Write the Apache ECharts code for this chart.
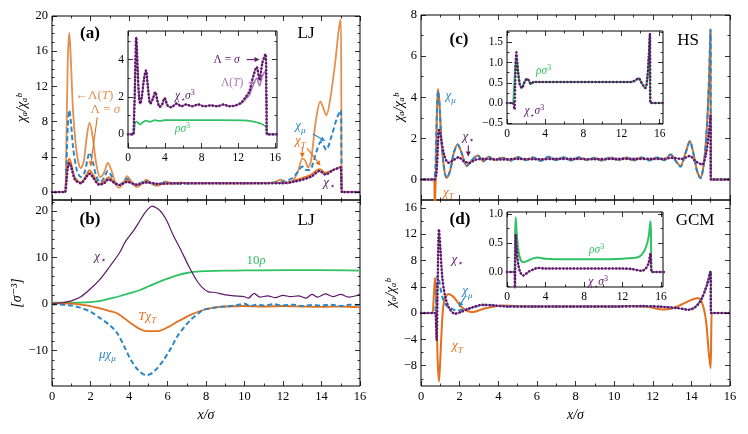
<!DOCTYPE html>
<html>
<head>
<meta charset="utf-8">
<script src="https://cdn.jsdelivr.net/npm/echarts@6/dist/echarts.min.js"></script>
<style>
  html, body { margin: 0; padding: 0; background: #fff; }
  #chart { width: 748px; height: 434px; }
</style>
</head>
<body>
<div id="chart"></div>
<script>
// tick values
const X_MAJ = [0, 2, 4, 6, 8, 10, 12, 14, 16];
const X_MIN = [1, 3, 5, 7, 9, 11, 13, 15];
const IN_X_MAJ = [0, 4, 8, 12, 16];
const IN_X_MIN = [2, 6, 10, 14];
const A_Y_MAJ = [0, 4, 8, 12, 16, 20];
const A_Y_MIN = [1, 2, 3, 5, 6, 7, 9, 10, 11, 13, 14, 15, 17, 18, 19];
const B_Y_MAJ = [-10, 0, 10, 20];
const B_Y_MIN = [-16, -14, -12, -8, -6, -4, -2, 2, 4, 6, 8, 12, 14, 16, 18, 22];
const C_Y_MAJ = [0, 2, 4, 6, 8];
const C_Y_MIN = [1, 3, 5, 7];
const D_Y_MAJ = [-8, -4, 0, 4, 8, 12, 16];
const D_Y_MIN = [-10, -6, -2, 2, 6, 10, 14];
const IA_Y_MAJ = [0, 2, 4];
const IA_Y_MIN = [1, 3, 5];
const IC_Y_MAJ = [-0.5, 0, 0.5, 1, 1.5];
const IC_Y_MIN = [-0.25, 0.25, 0.75, 1.25, 1.75];
const ID_Y_MAJ = [0, 0.5, 1];
const ID_Y_MIN = [-0.25, 0.25, 0.75];

// (a) LJ, chi_a / chi_a^bulk
const aChiTLamT = [[0,0],[0.6,0],[0.68,0],[0.75,6],[0.82,15],[0.9,18.1],[0.98,15],[1.1,9],[1.3,4.2],[1.5,2.7],[1.65,3.5],[1.8,6.2],[1.95,7.9],[2.1,6.5],[2.3,3.2],[2.5,1.7],[2.7,2.2],[2.9,3.3],[3.1,2.4],[3.3,1.0],[3.5,0.5],[3.7,1.0],[3.9,1.8],[4.1,1.3],[4.4,0.55],[4.6,0.8],[4.9,1.4],[5.2,0.9],[5.5,0.7],[5.9,1.2],[6.3,0.9],[6.7,1.1],[7.2,0.95],[8,1.05],[9,1.0],[10,1.0],[11,1.05],[11.5,1.1],[11.9,1.4],[12.2,1.0],[12.5,1.2],[12.8,2.5],[13.0,3.8],[13.15,3.6],[13.3,2.8],[13.45,3.5],[13.7,8.0],[13.94,10.3],[14.1,9.5],[14.25,8.7],[14.45,10.5],[14.7,14.5],[14.9,18.5],[15.0,19.6],[15.03,10],[15.06,0],[16,0]];
const aChiMu = [[0,0],[0.6,0],[0.68,0],[0.75,3],[0.82,7.5],[0.9,9.3],[0.98,8],[1.1,5],[1.3,2.4],[1.5,1.7],[1.7,2.3],[1.85,3.8],[1.95,4.5],[2.1,3.6],[2.3,1.8],[2.5,1.1],[2.7,1.6],[2.9,2.4],[3.1,1.8],[3.3,0.9],[3.5,0.8],[3.9,1.5],[4.3,0.8],[4.9,1.25],[5.4,0.85],[5.9,1.1],[6.5,0.95],[7.5,1.0],[9,1.0],[11,1.0],[11.6,1.1],[12,1.2],[12.5,1.6],[12.8,2.4],[13.0,2.9],[13.2,2.5],[13.4,2.5],[13.6,3.6],[13.8,5.0],[13.95,5.7],[14.1,5.3],[14.25,4.8],[14.5,6.2],[14.8,8.4],[15.0,9.3],[15.03,5],[15.06,0],[16,0]];
const aChiTSig = [[0,0],[0.6,0],[0.68,0],[0.75,1.5],[0.82,3.2],[0.9,3.8],[1.0,3.2],[1.2,1.6],[1.5,1.1],[1.75,1.8],[1.95,2.5],[2.15,1.9],[2.45,0.9],[2.7,1.2],[2.95,1.7],[3.2,1.2],[3.5,0.8],[3.9,1.3],[4.4,0.8],[4.9,1.15],[5.5,0.9],[6.5,1.05],[8,1.0],[10,1.0],[12,1.05],[12.6,1.3],[13.0,1.6],[13.4,1.9],[13.9,2.6],[14.2,2.2],[14.6,2.5],[15.0,2.9],[15.03,1.5],[15.06,0],[16,0]];
const aChiStar = [[0,0],[0.6,0],[0.68,0],[0.75,1.2],[0.82,2.8],[0.9,3.3],[1.0,2.8],[1.2,1.4],[1.5,1.0],[1.75,1.6],[1.95,2.1],[2.15,1.6],[2.45,0.85],[2.7,1.0],[2.95,1.45],[3.2,1.1],[3.5,0.8],[3.9,1.15],[4.4,0.85],[4.9,1.1],[5.5,0.95],[6.5,1.0],[8,1.0],[10,1.0],[12,1.0],[12.6,1.2],[13.0,1.4],[13.5,1.8],[13.9,2.4],[14.2,2.0],[14.6,2.5],[15.0,2.8],[15.03,1.4],[15.06,0],[16,0]];
// (a) inset
const iaStarSig = [[0,0],[0.6,0],[0.65,0],[0.75,2.5],[0.9,5.2],[1.05,3.5],[1.2,2.0],[1.34,1.64],[1.5,2.0],[1.75,3.0],[1.96,3.42],[2.15,2.6],[2.43,1.64],[2.7,1.9],[2.97,2.26],[3.2,1.8],[3.44,1.47],[3.7,1.6],[3.98,1.94],[4.3,1.55],[4.7,1.45],[5.3,1.65],[5.8,1.5],[6.3,1.6],[7,1.5],[7.6,1.6],[8.3,1.5],[9,1.55],[9.7,1.5],[10.4,1.6],[11,1.5],[11.7,1.55],[12.3,1.7],[12.8,2.0],[13.2,2.3],[13.5,2.9],[14.0,3.6],[14.3,2.9],[14.6,3.8],[14.95,4.3],[15.05,2],[15.12,0],[16.2,0]];
const iaStarLamT = [[0,0],[0.6,0],[0.65,0],[0.75,2.5],[0.9,5.2],[1.05,3.5],[1.2,2.0],[1.34,1.64],[1.5,2.0],[1.75,3.0],[1.96,3.42],[2.15,2.6],[2.43,1.64],[2.7,1.9],[2.97,2.26],[3.2,1.8],[3.44,1.47],[3.7,1.6],[3.98,1.94],[4.3,1.55],[4.7,1.45],[5.3,1.65],[5.8,1.5],[6.3,1.6],[7,1.5],[7.6,1.6],[8.3,1.5],[9,1.55],[9.7,1.5],[10.4,1.6],[11,1.5],[11.7,1.55],[12.3,1.65],[12.8,1.9],[13.2,2.1],[13.5,2.5],[14.0,3.0],[14.3,2.6],[14.6,3.1],[14.95,3.4],[15.05,1.6],[15.12,0],[16.2,0]];
const iaRho = [[0,0],[0.65,0],[0.7,0],[0.78,0.66],[0.95,0.68],[1.3,0.53],[1.6,0.64],[2.0,0.73],[2.4,0.67],[2.9,0.76],[3.4,0.72],[4,0.76],[6,0.76],[10,0.76],[12.5,0.75],[13.5,0.7],[14.3,0.6],[15.0,0.4],[15.08,0],[16.2,0]];

// (b) LJ, absolute profiles
const bChiStar = [[0,0.2],[0.5,0.3],[1,0.7],[1.5,1.6],[2,3.3],[2.5,5.4],[3,8.1],[3.5,11.0],[3.82,13.5],[4.2,15.6],[4.5,17.5],[4.77,19.3],[5.0,20.5],[5.2,21.1],[5.5,20.5],[5.75,19.4],[6.0,17.6],[6.3,14.8],[6.7,11.6],[7.1,8.2],[7.5,5.2],[7.8,3.6],[8.1,2.7],[8.5,2.5],[9,2.0],[9.5,1.8],[10,1.6],[10.2,1.3],[10.5,2.3],[10.8,1.5],[11.2,1.8],[11.6,1.4],[12,1.9],[12.4,1.6],[12.8,1.8],[13.2,1.3],[13.5,2.1],[13.8,1.5],[14.2,2.2],[14.6,1.6],[15,2.1],[15.4,1.5],[15.8,1.8],[16,2.2]];
const bRho10 = [[0,0.3],[1,0.3],[2,0.45],[2.5,0.7],[3,1.2],[3.5,1.7],[4,2.3],[4.6,3.1],[5,3.8],[5.5,4.7],[6,5.5],[6.5,6.2],[7,6.7],[7.5,7.0],[8,7.1],[9,7.2],[10,7.25],[12,7.3],[14,7.3],[16,7.2]];
const bTChiT = [[0,0.2],[1,0.1],[1.5,-0.1],[2,-0.4],[2.5,-0.9],[3,-1.5],[3.4,-2.0],[4.1,-4.1],[4.5,-5.2],[4.9,-5.8],[5.5,-5.8],[6,-5.0],[6.5,-3.8],[7.2,-2.3],[7.9,-1.2],[8.5,-0.7],[9,-0.5],[10,-0.4],[11,-0.5],[12,-0.4],[13,-0.5],[14,-0.6],[15,-0.5],[16,-0.7]];
const bMuChiMu = [[0,0],[1,-0.3],[1.5,-0.8],[2,-1.6],[2.5,-3.0],[3,-4.5],[3.4,-6.3],[3.8,-9.5],[4.1,-12.0],[4.5,-14.3],[4.9,-15.3],[5.3,-14.5],[5.8,-12.0],[6.2,-9.3],[6.5,-7.0],[6.9,-4.8],[7.2,-3.4],[7.6,-2.0],[7.9,-1.2],[8.5,-0.7],[9,-0.5],[9.5,-0.3],[10,0.1],[10.3,-0.4],[10.6,-0.1],[11,-0.3],[11.5,0],[12,-0.3],[12.5,-0.1],[13,-0.4],[13.5,-0.2],[14,-0.3],[14.5,-0.1],[15,-0.4],[15.5,-0.1],[16,-0.2]];

// (c) HS
const cChiT = [[0,0],[0.6,0],[0.68,0],[0.71,-1.5],[0.76,0],[0.82,3.0],[0.88,4.4],[0.95,3.8],[1.05,2.0],[1.2,0.5],[1.33,0.08],[1.5,0.4],[1.7,1.3],[1.9,1.7],[2.1,1.3],[2.37,0.65],[2.6,0.9],[2.94,1.17],[3.23,0.88],[3.5,1.1],[3.8,0.95],[4.2,1.05],[4.6,0.92],[5.0,1.08],[5.4,0.95],[5.8,1.05],[6.2,0.93],[6.6,1.07],[7.0,0.96],[7.4,1.05],[7.8,0.94],[8.2,1.06],[8.6,0.96],[9.0,1.04],[9.4,0.93],[9.8,1.06],[10.2,0.95],[10.6,1.05],[11.0,0.94],[11.4,1.05],[11.8,0.95],[12.2,1.04],[12.6,0.95],[12.92,1.22],[13.2,0.9],[13.43,0.65],[13.7,1.3],[13.92,1.87],[14.1,1.3],[14.3,0.4],[14.47,0.08],[14.65,0.8],[14.8,2.5],[14.92,5.0],[14.99,7.3],[15.01,0],[16,0]];
const cChiMu = [[0,0],[0.6,0],[0.68,0],[0.74,0.5],[0.8,2.5],[0.88,4.3],[0.95,3.8],[1.05,2.0],[1.2,0.5],[1.33,0.08],[1.5,0.4],[1.7,1.3],[1.9,1.7],[2.1,1.3],[2.37,0.65],[2.6,0.9],[2.94,1.17],[3.23,0.88],[3.5,1.12],[3.8,0.93],[4.2,1.07],[4.6,0.9],[5.0,1.1],[5.4,0.93],[5.8,1.08],[6.2,0.9],[6.6,1.1],[7.0,0.94],[7.4,1.08],[7.8,0.92],[8.2,1.09],[8.6,0.93],[9.0,1.07],[9.4,0.9],[9.8,1.09],[10.2,0.92],[10.6,1.08],[11.0,0.91],[11.4,1.08],[11.8,0.92],[12.2,1.07],[12.6,0.93],[12.92,1.2],[13.2,0.88],[13.43,0.62],[13.7,1.28],[13.92,1.85],[14.1,1.28],[14.3,0.38],[14.47,0.06],[14.65,0.8],[14.8,2.5],[14.92,5.0],[14.99,7.3],[15.01,0],[16,0]];
const cChiStar = [[0,0],[0.6,0],[0.7,0],[0.8,0.3],[0.88,1.8],[0.93,2.4],[1.0,2.2],[1.2,1.2],[1.42,0.81],[1.7,0.95],[1.95,1.08],[2.2,0.9],[2.5,0.8],[2.8,0.95],[3.2,1.0],[4,0.97],[5,1.0],[6,0.98],[7,1.0],[8,1.0],[9,0.98],[10,1.0],[11,1.0],[12,1.0],[12.5,1.0],[13.0,1.05],[13.5,1.0],[13.92,1.14],[14.2,0.9],[14.56,0.73],[14.75,1.2],[14.9,2.2],[14.99,3.1],[15.01,0],[16,0]];
// (c) inset
const icRho = [[0,0],[0.65,0],[0.72,0],[0.8,0.6],[0.98,1.15],[1.15,0.8],[1.35,0.45],[1.57,0.37],[1.8,0.5],[2.1,0.6],[2.3,0.55],[2.5,0.47],[2.8,0.52],[3.2,0.52],[13,0.52],[13.4,0.55],[13.8,0.61],[14.1,0.5],[14.5,0.37],[14.7,0.6],[14.85,1.1],[14.98,1.72],[15.02,0],[16.35,0]];
const icStar = [[0,0],[0.65,0],[0.72,0],[0.78,-0.16],[0.85,0.4],[0.98,1.25],[1.15,0.8],[1.35,0.45],[1.57,0.37],[1.8,0.5],[2.1,0.6],[2.3,0.55],[2.5,0.47],[2.8,0.52],[3.2,0.52],[13,0.52],[13.4,0.55],[13.8,0.61],[14.1,0.5],[14.5,0.37],[14.7,0.6],[14.85,1.1],[14.98,1.72],[15.02,0],[16.35,0]];

// (d) GCM
const dChiT = [[0,0],[0.55,0],[0.6,0],[0.66,2.5],[0.73,5.4],[0.8,1],[0.86,-7],[0.93,-10.4],[1.0,-7],[1.1,-1],[1.2,1.8],[1.42,2.9],[1.7,2.4],[2.1,0.9],[2.63,0.15],[3.3,0.7],[3.8,1.0],[4.2,1.16],[5,1.05],[6,1.0],[8,1.0],[10,1.0],[11,1.05],[11.6,1.0],[12,0.8],[12.5,0.55],[13.0,0.7],[13.5,1.3],[14,2.0],[14.33,2.3],[14.55,1.6],[14.75,-1],[14.9,-6],[14.99,-8.4],[15.03,-3],[15.06,0],[16,0]];
const dChiMu = [[0,0],[0.65,0],[0.72,0],[0.76,1],[0.82,4],[0.87,5.7],[0.95,4.8],[1.1,2.5],[1.3,1.2],[1.5,0.8],[1.85,0.4],[2.3,0.55],[2.8,0.95],[3.2,1.2],[3.8,1.15],[4.5,1.0],[6,1.0],[8,1.0],[10,1.0],[11.5,1.05],[12.5,0.95],[13.3,0.75],[13.87,0.55],[14.2,0.95],[14.5,2.0],[14.8,4.3],[14.99,6.5],[15.02,0],[16,0]];
const dChiStar = [[0,0],[0.65,0],[0.74,0],[0.78,-2],[0.81,-4.1],[0.85,2],[0.93,12.75],[1.0,10],[1.1,5.5],[1.24,2.7],[1.45,0.8],[1.76,-0.1],[2.1,0.2],[2.6,0.8],[3.23,1.27],[3.8,1.15],[4.5,1.0],[6,1.0],[8,1.0],[10,1.0],[11.5,1.05],[12.5,0.95],[13.3,0.75],[13.87,0.5],[14.2,0.9],[14.5,2.0],[14.8,4.2],[14.99,6.3],[15.02,0],[16,0]];
// (d) inset
const idRho = [[0,0],[0.7,0],[0.78,0],[0.83,0.5],[0.9,0.95],[1.0,0.7],[1.2,0.35],[1.45,0.2],[1.7,0.17],[2.2,0.2],[2.8,0.24],[3.2,0.25],[4,0.23],[6,0.22],[10,0.22],[12,0.23],[12.8,0.24],[13.5,0.25],[14,0.3],[14.4,0.42],[14.7,0.6],[14.9,0.88],[14.95,0.7],[15.02,0],[16.3,0]];
const idStar = [[0,0],[0.7,0],[0.78,0],[0.82,-0.3],[0.86,0.2],[0.9,0.65],[1.0,0.4],[1.2,0.1],[1.45,-0.03],[1.7,-0.06],[2.2,0.0],[2.8,0.05],[3.2,0.07],[4,0.06],[12,0.06],[13,0.05],[13.6,0.03],[14,0.02],[14.4,0.06],[14.7,0.15],[14.9,0.32],[14.95,0.2],[15.02,0],[16.3,0]];

const BLUE = '#2a86c6', ORANGE = '#e2701d', LORANGE = '#e39050',
      PURPLE = '#5e1769', LPURPLE = '#a77ab3', GREEN = '#2fc163';
const FONT = '"Liberation Serif", "DejaVu Serif", serif';

const myChart = echarts.init(document.getElementById('chart'));

const grids = [
  { left: 52, top: 16, width: 308, height: 184 },   // a
  { left: 52, top: 200, width: 308, height: 186 },  // b
  { left: 421, top: 15, width: 309, height: 185 },  // c
  { left: 421, top: 200, width: 309, height: 186 }, // d
  { left: 128, top: 31, width: 149, height: 117 },  // inset a
  { left: 507, top: 31, width: 156, height: 93 },   // inset c
  { left: 507, top: 212, width: 156, height: 75 }   // inset d
];
const isInset = g => g >= 4;

function fmt(dec) {
  return v => (v < 0 ? '\u2212' : '') + Math.abs(v).toFixed(dec);
}

// per grid: [xmin,xmax,xMaj,xMin,showX, ymin,ymax,yMaj,yMin,yDec, yName, yGap]
const axesDef = [
  [0, 16, X_MAJ, X_MIN, false, -0.9, 20, A_Y_MAJ, A_Y_MIN, 0, 'χₐ/χₐᵇ', 23],
  [0, 16, X_MAJ, X_MIN, true, -17.6, 22.4, B_Y_MAJ, B_Y_MIN, 0, '[σ⁻³]', 23],
  [0, 16, X_MAJ, X_MIN, false, -1, 8, C_Y_MAJ, C_Y_MIN, 0, 'χₐ/χₐᵇ', 15],
  [0, 16, X_MAJ, X_MIN, true, -11.1, 17.2, D_Y_MAJ, D_Y_MIN, 0, 'χₐ/χₐᵇ', 23],
  [0, 16.2, IN_X_MAJ, IN_X_MIN, true, -0.73, 5.53, IA_Y_MAJ, IA_Y_MIN, 0, '', 0],
  [0, 16.35, IN_X_MAJ, IN_X_MIN, true, -0.52, 1.78, IC_Y_MAJ, IC_Y_MIN, 1, '', 0],
  [0, 16.2, IN_X_MAJ, IN_X_MIN, true, -0.26, 1.04, ID_Y_MAJ, ID_Y_MIN, 1, '', 0]
];

const xAxes = [], yAxes = [];
axesDef.forEach((d, g) => {
  const fs = isInset(g) ? 11.5 : 12.5;
  const z = isInset(g) ? 6 : 3;
  const sides = [['bottom', 'top'], ['left', 'right']];
  [0, 1].forEach(dim => {
    const min = dim ? d[5] : d[0], max = dim ? d[6] : d[1];
    const maj = dim ? d[7] : d[2], mnr = dim ? d[8] : d[3];
    const showLab = dim ? true : d[4];
    sides[dim].forEach((pos, k) => {
      [maj, mnr].forEach((vals, m) => {
        const ax = {
          type: 'value', gridIndex: g, position: pos, min: min, max: max, z: z,
          axisLine: { show: false, onZero: false }, splitLine: { show: false },
          axisTick: { show: true, inside: true, customValues: vals, length: m ? 2.5 : 5,
                      lineStyle: { color: '#000', width: 0.8 } },
          axisLabel: { show: showLab && k === 0 && m === 0, customValues: vals,
                       fontFamily: FONT, fontSize: fs, color: '#000', margin: 4,
                       formatter: fmt(dim ? d[9] : 0) }
        };
        if (k === 0 && m === 0) {
          if (dim === 1 && d[10]) {
            Object.assign(ax, { name: d[10], nameLocation: 'middle', nameGap: d[11], nameRotate: 90,
              nameTextStyle: { fontFamily: FONT, fontSize: 14, fontStyle: 'italic', color: '#000' } });
          }
          if (dim === 0 && (g === 1 || g === 3)) {
            Object.assign(ax, { name: 'x/σ', nameLocation: 'middle', nameGap: 22,
              nameTextStyle: { fontFamily: FONT, fontSize: 14, fontStyle: 'italic', color: '#000' } });
          }
        }
        (dim ? yAxes : xAxes).push(ax);
      });
    });
  });
});

function solid(g, data, color, w) {
  return { type: 'line', xAxisIndex: 4 * g, yAxisIndex: 4 * g, data: data, symbol: 'none',
           smooth: 0.3, silent: true, z: isInset(g) ? 7 : 2,
           lineStyle: { color: color, width: w || 1.8 } };
}
function dashed(g, data, color) {
  const s = solid(g, data, color, 2);
  s.lineStyle.type = [5, 3];
  return s;
}
function dotted(g, data, color) {
  const s = solid(g, data, color, 2.6);
  s.lineStyle.type = [0.1, 3.4];
  s.lineStyle.cap = 'round';
  return s;
}

const series = [
  // (a)
  solid(0, aChiTLamT, LORANGE),
  dashed(0, aChiMu, BLUE),
  solid(0, aChiTSig, ORANGE),
  solid(0, aChiStar, LPURPLE, 1.6),
  dotted(0, aChiStar, PURPLE),
  // (a) inset
  solid(4, iaRho, GREEN),
  solid(4, iaStarLamT, LPURPLE, 1.6),
  solid(4, iaStarSig, LPURPLE, 1.4),
  dotted(4, iaStarSig, PURPLE),
  // (b)
  solid(1, bRho10, GREEN),
  solid(1, bTChiT, ORANGE),
  dashed(1, bMuChiMu, BLUE),
  solid(1, bChiStar, PURPLE, 1.2),
  // (c)
  solid(2, cChiT, ORANGE, 2),
  dashed(2, cChiMu, BLUE),
  solid(2, cChiStar, LPURPLE, 1.4),
  dotted(2, cChiStar, PURPLE),
  // (c) inset
  solid(5, icRho, GREEN, 2),
  dotted(5, icStar, PURPLE),
  // (d)
  solid(3, dChiT, ORANGE, 2),
  dashed(3, dChiMu, BLUE),
  solid(3, dChiStar, LPURPLE, 1.4),
  dotted(3, dChiStar, PURPLE),
  // (d) inset
  solid(6, idRho, GREEN, 2),
  solid(6, idStar, LPURPLE, 1.4),
  dotted(6, idStar, PURPLE)
];

const option = {
  animation: false,
  backgroundColor: '#fff',
  grid: grids.map((r, g) => Object.assign({
    show: true, borderColor: '#000', borderWidth: 1,
    backgroundColor: isInset(g) ? '#fff' : 'transparent', z: isInset(g) ? 5 : 0
  }, r)),
  xAxis: xAxes,
  yAxis: yAxes,
  series: series
};
myChart.setOption(option);

// annotations, anchored in data coordinates
function richFor(size) {
  return {
    m: { fontFamily: FONT, fontSize: size, fontStyle: 'italic' },
    r: { fontFamily: FONT, fontSize: size },
    s: { fontFamily: FONT, fontSize: size * 0.7, fontStyle: 'italic', padding: [size * 0.7, 0, 0, 0] },
    p: { fontFamily: FONT, fontSize: size * 0.7, padding: [0, 0, size * 0.55, 0] }
  };
}
const notes = [
  [0, [1.2, 11.0], '{r|←Λ(}{m|T}{r|)}', LORANGE, 'left'],
  [0, [2.0, 9.4], '{r|Λ = }{m|σ}', LORANGE, 'left'],
  [0, [12.9, 7.5], '{m|χ}{s|μ}', BLUE, 'center'],
  [0, [12.9, 5.8], '{m|χ}{s|T}', ORANGE, 'center'],
  [0, [14.4, 1.1], '{m|χ}{s|⋆}', PURPLE, 'center'],
  [4, [9.3, 4.0], '{r|Λ = }{m|σ}', PURPLE, 'left'],
  [4, [10.1, 2.76], '{r|Λ(}{m|T}{r|)}', LPURPLE, 'left'],
  [4, [5.1, 2.05], '{m|χ}{s|⋆}{m|σ}{p|3}', PURPLE, 'left'],
  [4, [5.1, 0.3], '{m|ρσ}{p|3}', GREEN, 'left'],
  [1, [2.5, 10.3], '{m|χ}{s|⋆}', PURPLE, 'center'],
  [1, [10.6, 9.4], '{r|10}{m|ρ}', GREEN, 'center'],
  [1, [4.95, -2.6], '{m|Tχ}{s|T}', ORANGE, 'center'],
  [1, [2.88, -10.8], '{m|μχ}{s|μ}', BLUE, 'center'],
  [2, [1.54, 4.06], '{m|χ}{s|μ}', BLUE, 'center'],
  [2, [2.45, 2.1], '{m|χ}{s|⋆}', PURPLE, 'center'],
  [2, [1.42, -0.62], '{m|χ}{s|T}', ORANGE, 'center'],
  [5, [3.84, 0.8], '{m|ρσ}{p|3}', GREEN, 'center'],
  [5, [2.86, -0.21], '{m|χ}{s|⋆}{m|σ}{p|3}', PURPLE, 'center'],
  [3, [1.88, 8.2], '{m|χ}{s|⋆}', PURPLE, 'center'],
  [3, [2.4, 3.4], '{m|χ}{s|μ}', BLUE, 'center'],
  [3, [1.88, -5.0], '{m|χ}{s|T}', ORANGE, 'center'],
  [6, [9.3, 0.38], '{m|ρσ}{p|3}', GREEN, 'center'],
  [6, [9.46, -0.18], '{m|χ}{s|⋆}{m|σ}{p|3}', PURPLE, 'center']
];
const arrows = [
  [0, [2.35, 8.5], [2.0, 2.9], ORANGE],
  [0, [13.55, 6.6], [14.2, 5.8], BLUE],
  [0, [13.0, 5.1], [13.0, 3.9], ORANGE],
  [0, [13.25, 5.0], [13.95, 3.0], ORANGE],
  [4, [12.9, 4.0], [14.3, 4.0], PURPLE],
  [4, [13.1, 2.76], [13.9, 2.76], LPURPLE],
  [2, [2.45, 1.65], [2.45, 1.12], PURPLE],
  [3, [2.3, 2.6], [1.95, 0.9], BLUE]
];
const px = (g, p) => myChart.convertToPixel({ xAxisIndex: 4 * g, yAxisIndex: 4 * g }, p);

const graphics = [];
notes.forEach(n => {
  const p = px(n[0], n[1]);
  const base = richFor(isInset(n[0]) ? 11.5 : 13);
  const rich = {};
  Object.keys(base).forEach(k => { rich[k] = Object.assign({ fill: n[3] }, base[k]); });
  graphics.push({ type: 'text', x: p[0], y: p[1], z: 20,
    style: { text: n[2], rich: rich, fill: n[3], align: n[4], verticalAlign: 'middle' } });
});
arrows.forEach(a => {
  const p0 = px(a[0], a[1]), p1 = px(a[0], a[2]);
  const ang = Math.atan2(p1[1] - p0[1], p1[0] - p0[0]);
  const L = 5, W = 2.5;
  const bx = p1[0] - L * Math.cos(ang), by = p1[1] - L * Math.sin(ang);
  graphics.push({ type: 'line', z: 20, shape: { x1: p0[0], y1: p0[1], x2: bx, y2: by },
    style: { stroke: a[3], lineWidth: 1.1 } });
  graphics.push({ type: 'polygon', z: 20, shape: { points: [
    [p1[0], p1[1]],
    [bx + W * Math.sin(ang), by - W * Math.cos(ang)],
    [bx - W * Math.sin(ang), by + W * Math.cos(ang)] ] }, style: { fill: a[3] } });
});
// panel tags
[['(a)', 90, 34, 'bold'], ['(b)', 90, 220, 'bold'], ['(c)', 459, 40, 'bold'], ['(d)', 460, 220, 'bold'],
 ['LJ', 306, 34, 'normal'], ['LJ', 306, 221, 'normal'], ['HS', 688, 41, 'normal'], ['GCM', 695, 221, 'normal']]
  .forEach(t => graphics.push({ type: 'text', x: t[1], y: t[2], z: 20,
    style: { text: t[0], fontFamily: FONT, fontSize: 17, fontWeight: t[3], fill: '#000',
             align: 'center', verticalAlign: 'middle' } }));

myChart.setOption({ graphic: graphics });

window.addEventListener('resize', function() {
  myChart.resize()
})
</script>
</body>
</html>
